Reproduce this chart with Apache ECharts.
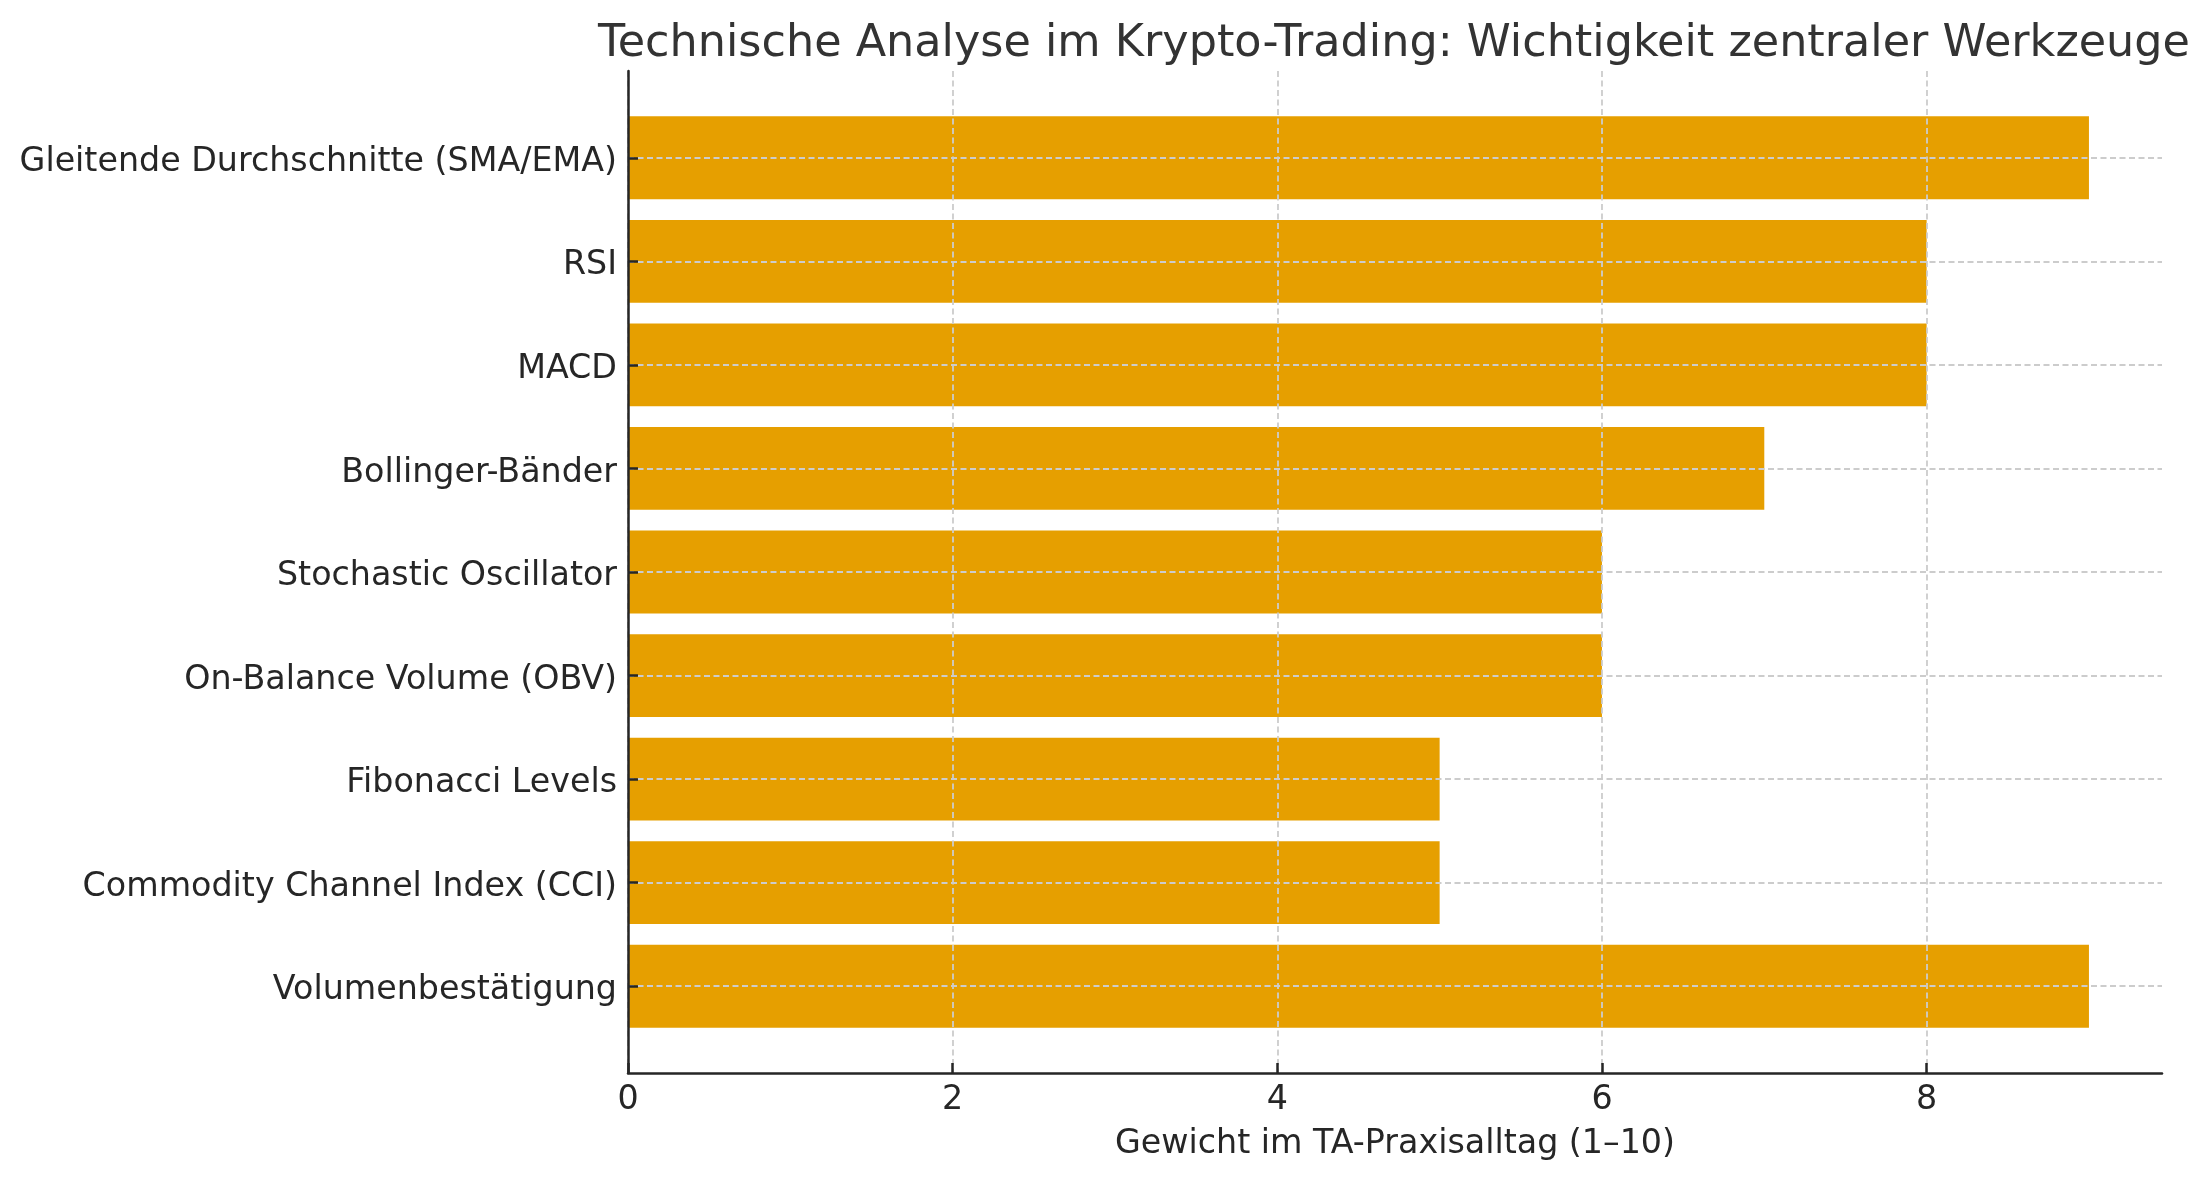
<!DOCTYPE html>
<html>
<head>
<meta charset="utf-8">
<script src="https://cdn.jsdelivr.net/npm/echarts@6/dist/echarts.min.js"></script>
<style>
    html, body {margin: 0; padding: 0; background: #ffffff;}
    #main {width: 2211px; height: 1180px;}
</style>
</head>
<body>
<div id="main"></div>
<script>
// Werkzeuge, von oben nach unten
let tools = [
    'Gleitende Durchschnitte (SMA/EMA)',
    'RSI',
    'MACD',
    'Bollinger-Bänder',
    'Stochastic Oscillator',
    'On-Balance Volume (OBV)',
    'Fibonacci Levels',
    'Commodity Channel Index (CCI)',
    'Volumenbestätigung'
];
let weights = [9, 8, 8, 7, 6, 6, 5, 5, 9];
let xTicks = [0, 2, 4, 6, 8];

let font = 'DejaVu Sans';
let ink = '#262626';
let gridColor = '#cccccc';

let myChart = echarts.init(document.getElementById('main'));
let option = {
    animation: false,
    backgroundColor: '#ffffff',
    title: {
        text: 'Technische Analyse im Krypto-Trading: Wichtigkeit zentraler Werkzeuge',
        left: 1389,
        top: 17,
        textAlign: 'center',
        textStyle: {fontFamily: font, fontSize: 44.5, fontWeight: 'normal', color: '#333333'}
    },
    grid: [
        // äußerer Rahmen mit x-Achse
        {left: 628, right: 49, top: 71, bottom: 107},
        // innerer Bereich für die Balken
        {left: 628, right: 49, top: 106, bottom: 142}
    ],
    xAxis: [{
        type: 'value',
        gridIndex: 0,
        min: 0,
        max: 9.45,
        z: 3,
        axisLine: {show: true, lineStyle: {color: ink, width: 2.5}},
        axisTick: {show: true, inside: true, length: 10, customValues: xTicks, lineStyle: {color: ink, width: 2.5}},
        axisLabel: {customValues: xTicks, margin: 11, fontFamily: font, fontSize: 33.3, color: ink},
        splitLine: {show: true, lineStyle: {color: gridColor, width: 1.8, type: [6, 3.5]}},
        name: 'Gewicht im TA-Praxisalltag (1–10)',
        nameLocation: 'middle',
        nameGap: 55,
        nameTextStyle: {fontFamily: font, fontSize: 33.3, color: ink}
    }, {
        type: 'value',
        gridIndex: 1,
        min: 0,
        max: 9.45,
        show: false
    }],
    yAxis: [{
        type: 'value',
        gridIndex: 0,
        min: 0,
        max: 1,
        z: 3,
        axisLine: {show: true, lineStyle: {color: ink, width: 2.5}},
        axisTick: {show: false},
        axisLabel: {show: false},
        splitLine: {show: false}
    }, {
        type: 'category',
        gridIndex: 1,
        inverse: true,
        data: tools,
        z: 3,
        axisLine: {show: false},
        axisTick: {show: true, inside: true, length: 10, alignWithLabel: true, lineStyle: {color: ink, width: 2.5}},
        axisLabel: {
            margin: 11,
            formatter: function (v) { return '{t|' + v + '}'; },
            rich: {t: {padding: [9, 0, 0, 0], fontFamily: font, fontSize: 33.3, color: ink}}
        },
        splitLine: {show: true, alignWithLabel: true, lineStyle: {color: gridColor, width: 1.8, type: [6, 3.5]}}
    }],
    series: [{
        type: 'bar',
        xAxisIndex: 1,
        yAxisIndex: 1,
        data: weights,
        barWidth: '80%',
        itemStyle: {color: '#E69F00'}
    }]
};
myChart.setOption(option);
</script>
</body>
</html>
